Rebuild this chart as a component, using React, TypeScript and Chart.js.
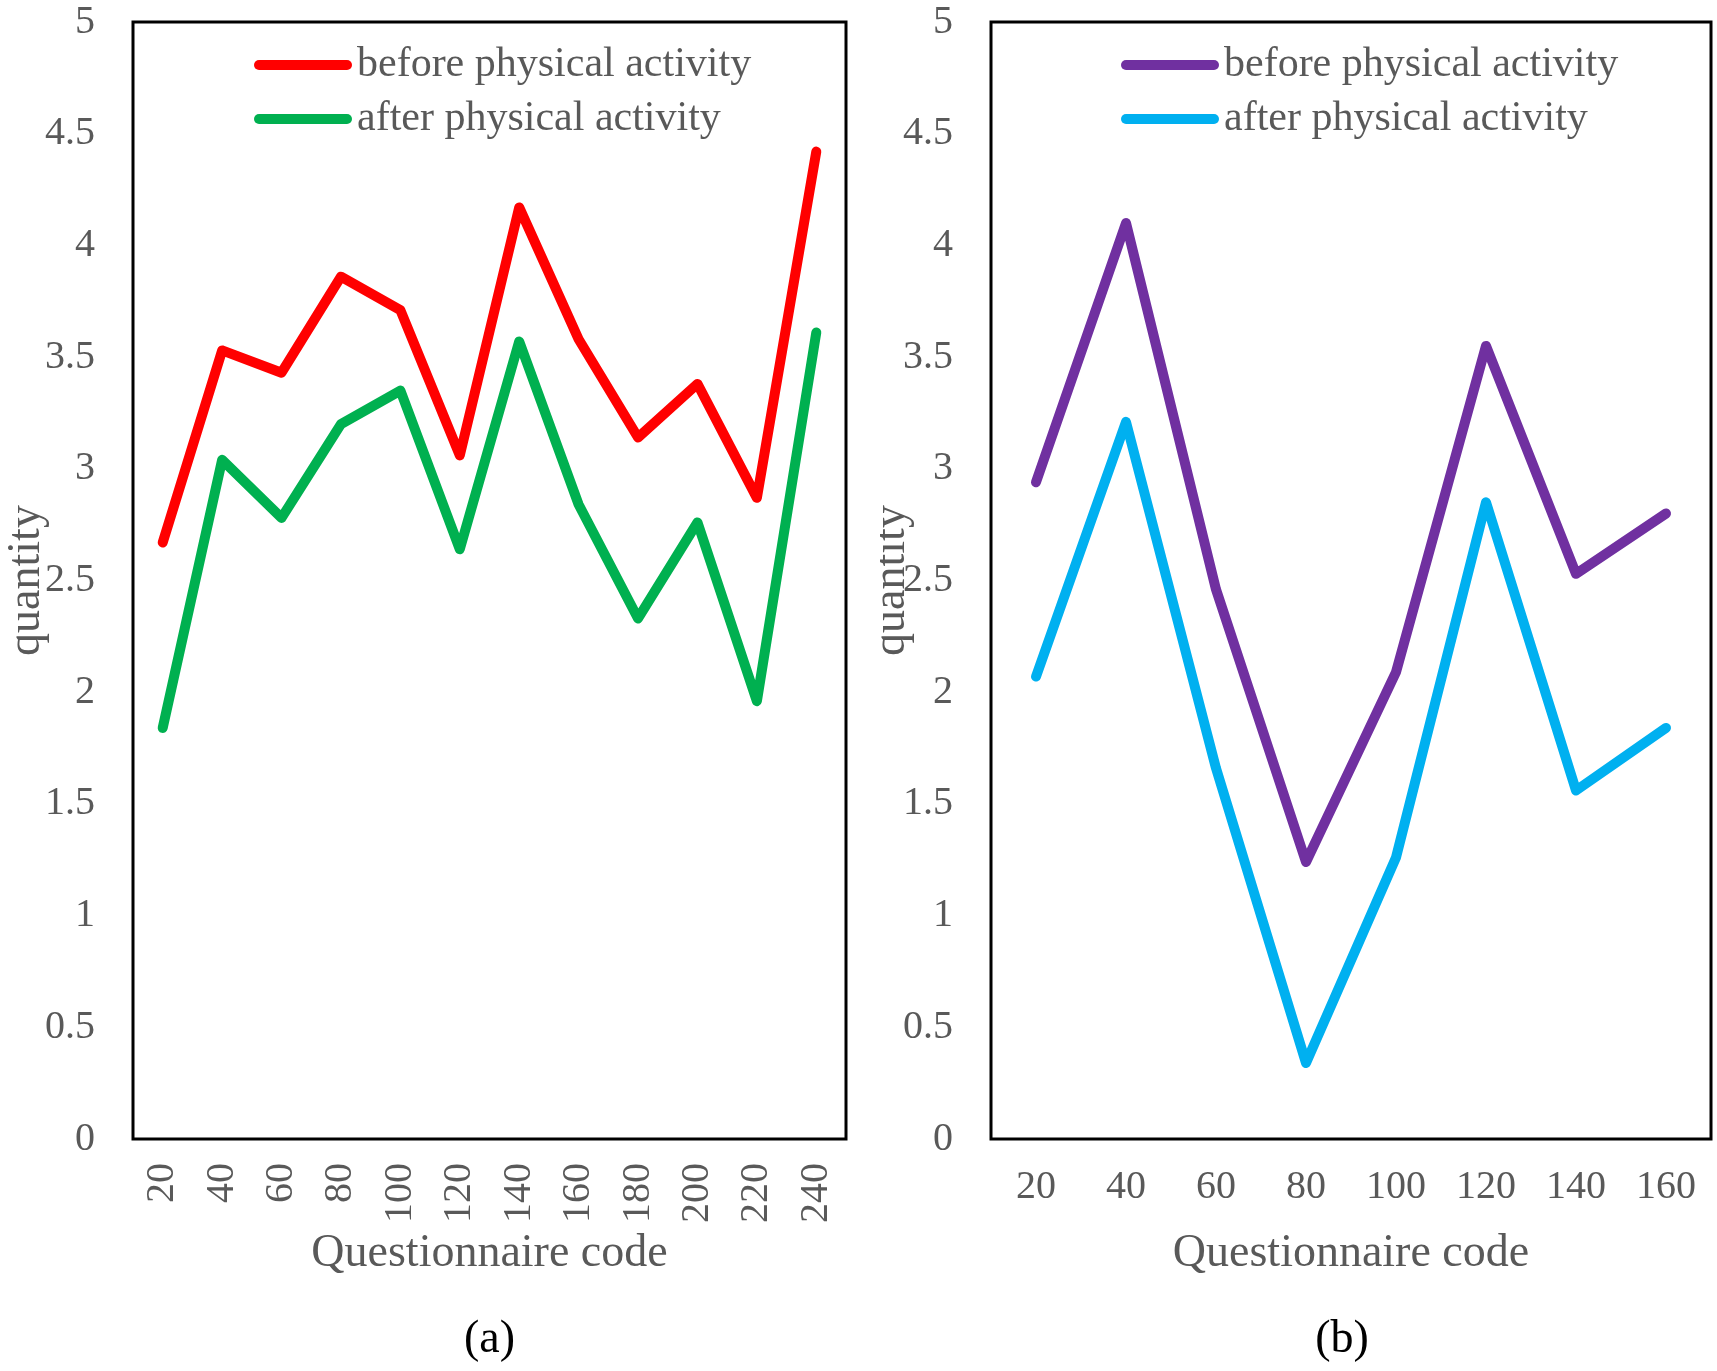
import { useEffect, useRef } from 'react';
import { Chart, registerables } from 'chart.js';

Chart.register(...registerables);

const FONT = "'Liberation Serif', 'Times New Roman', serif";
const TEXT = '#595959';

// panel (a)
const codesA = ['20', '40', '60', '80', '100', '120', '140', '160', '180', '200', '220', '240'];
const beforeA = [2.67, 3.53, 3.43, 3.86, 3.71, 3.06, 4.17, 3.58, 3.14, 3.38, 2.87, 4.42];
const afterA = [1.84, 3.04, 2.78, 3.2, 3.35, 2.64, 3.57, 2.84, 2.33, 2.76, 1.96, 3.61];

// panel (b)
const codesB = ['20', '40', '60', '80', '100', '120', '140', '160'];
const beforeB = [2.94, 4.1, 2.46, 1.24, 2.09, 3.55, 2.53, 2.8];
const afterB = [2.07, 3.21, 1.66, 0.34, 1.26, 2.85, 1.56, 1.84];

const yMin = 0;
const yMax = 5;
const yStep = 0.5;

const seriesNames = ['before physical activity', 'after physical activity'];

// box, inside legend, rotated y title and (a)/(b) caption
const panelDecor = {
  id: 'panelDecor',
  afterDatasetsDraw(chart: any, _args: any, opts: any) {
    const { ctx, chartArea: a } = chart;
    ctx.save();
    ctx.strokeStyle = '#000';
    ctx.lineWidth = 3;
    ctx.strokeRect(a.left, a.top, a.right - a.left, a.bottom - a.top);

    ctx.font = `42px ${FONT}`;
    ctx.textBaseline = 'middle';
    ctx.textAlign = 'left';
    ctx.lineCap = 'round';
    chart.data.datasets.forEach((ds: any, i: number) => {
      const y = a.top + opts.legendTop + i * opts.legendGap;
      const x0 = a.left + opts.legendLeft;
      ctx.strokeStyle = ds.borderColor;
      ctx.lineWidth = 10;
      ctx.beginPath();
      ctx.moveTo(x0 + 5, y);
      ctx.lineTo(x0 + 93, y);
      ctx.stroke();
      ctx.fillStyle = TEXT;
      ctx.fillText(ds.label, x0 + 103, y);
    });
    ctx.restore();
  },
  afterDraw(chart: any, _args: any, opts: any) {
    const { ctx, chartArea: a } = chart;
    ctx.save();
    ctx.textAlign = 'center';
    ctx.textBaseline = 'middle';
    ctx.font = `46px ${FONT}`;

    ctx.fillStyle = '#000';
    ctx.fillText(opts.caption, (a.left + a.right) / 2 + opts.captionDx, opts.captionY);

    ctx.fillStyle = TEXT;
    ctx.translate(a.left - opts.yTitleOffset, (a.top + a.bottom) / 2);
    ctx.rotate(-Math.PI / 2);
    ctx.fillText(opts.yTitle, 0, 0);
    ctx.restore();
  },
};

interface PanelProps {
  codes: string[];
  before: number[];
  after: number[];
  colors: [string, string];
  width: number;
  yAxisWidth: number;
  padRight: number;
  rotation: number;
  legendLeft: number;
  yTitleOffset: number;
  caption: string;
  captionDx: number;
}

const Panel: React.FC<PanelProps> = (p) => {
  const canvasRef = useRef(null as HTMLCanvasElement | null);
  const chartRef = useRef(null as any);

  useEffect(() => {
    if (!canvasRef.current) return;
    const ctx = canvasRef.current.getContext('2d');
    if (!ctx) return;

    if (chartRef.current) {
      chartRef.current.destroy();
    }

    const lineStyle = {
      borderWidth: 10,
      pointRadius: 0,
      tension: 0,
      borderCapStyle: 'round',
      borderJoinStyle: 'round',
      fill: false,
    };

    chartRef.current = new Chart(ctx, {
      type: 'line',
      data: {
        labels: p.codes,
        datasets: [
          { label: seriesNames[0], data: p.before, borderColor: p.colors[0], backgroundColor: p.colors[0], ...lineStyle },
          { label: seriesNames[1], data: p.after, borderColor: p.colors[1], backgroundColor: p.colors[1], ...lineStyle },
        ],
      } as any,
      options: {
        responsive: false,
        animation: false,
        layout: { padding: { top: 22, right: p.padRight, bottom: 0, left: 0 } },
        plugins: {
          legend: { display: false },
          tooltip: { enabled: false },
          panelDecor: {
            legendLeft: p.legendLeft,
            legendTop: 43,
            legendGap: 54,
            yTitle: 'quantity',
            yTitleOffset: p.yTitleOffset,
            caption: p.caption,
            captionDx: p.captionDx,
            captionY: 1340,
          },
        } as any,
        scales: {
          x: {
            type: 'category',
            offset: true,
            grid: { display: false, drawTicks: false },
            border: { display: false },
            ticks: {
              color: TEXT,
              font: { family: FONT, size: 40 },
              padding: 24,
              minRotation: p.rotation,
              maxRotation: p.rotation,
              autoSkip: false,
            },
            title: {
              display: true,
              text: 'Questionnaire code',
              color: TEXT,
              font: { family: FONT, size: 46 },
              padding: { top: 0, bottom: 89 },
            },
            afterFit: (s: any) => {
              s.height = 232;
              s.paddingLeft = 0;
              s.paddingRight = 0;
            },
          },
          y: {
            min: yMin,
            max: yMax,
            grid: { display: false, drawTicks: false },
            border: { display: false },
            ticks: {
              stepSize: yStep,
              color: TEXT,
              font: { family: FONT, size: 40 },
              padding: 38,
              callback: (v: any) => `${v}`,
            },
            afterFit: (s: any) => {
              s.width = p.yAxisWidth;
              s.paddingTop = 0;
              s.paddingBottom = 0;
            },
          },
        },
      } as any,
      plugins: [panelDecor as any],
    });

    return () => {
      if (chartRef.current) {
        chartRef.current.destroy();
        chartRef.current = null;
      }
    };
  }, []);

  return <canvas ref={canvasRef} width={p.width} height={1371} style={{ display: 'block' }} />;
};

export default function App() {
  return (
    <div
      style={{
        position: 'absolute',
        left: 0,
        top: 0,
        width: 1717,
        height: 1371,
        background: '#fff',
        display: 'flex',
      }}
    >
      <Panel
        codes={codesA}
        before={beforeA}
        after={afterA}
        colors={['#FF0000', '#00B050']}
        width={880}
        yAxisWidth={133}
        padRight={34}
        rotation={90}
        legendLeft={121}
        yTitleOffset={106}
        caption="(a)"
        captionDx={0}
      />
      <Panel
        codes={codesB}
        before={beforeB}
        after={afterB}
        colors={['#7030A0', '#00B0F0']}
        width={837}
        yAxisWidth={111}
        padRight={6}
        rotation={0}
        legendLeft={130}
        yTitleOffset={99}
        caption="(b)"
        captionDx={-9}
      />
    </div>
  );
}
